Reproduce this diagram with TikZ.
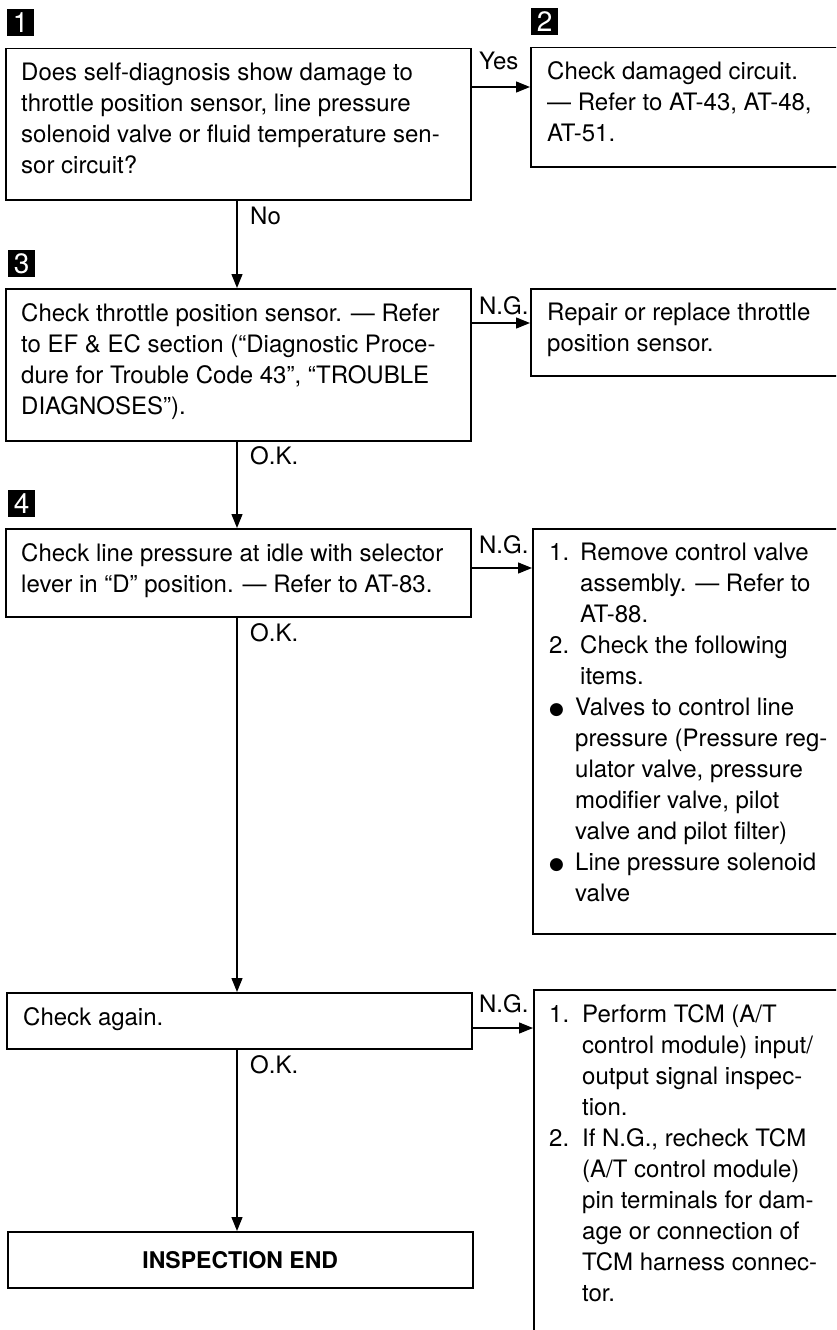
\documentclass[tikz,border=0pt]{standalone}
\usepackage{fontspec}
\setmainfont{TeX Gyre Heros}
\newfontfamily\symfont{DejaVu Sans}
\usetikzlibrary{arrows.meta}
\newcommand{\blt}{\makebox[26pt][l]{\raisebox{1.5pt}{\symfont\fontsize{17}{17}\selectfont ●}}}
\begin{document}
\begin{tikzpicture}[x=1pt,y=-1pt,
  box/.style={draw,line width=1.5pt,rectangle,anchor=north west,inner sep=0pt},
  txt/.style={anchor=north west,inner sep=0pt,align=left,
    font=\fontsize{24}{31}\selectfont},
  lbl/.style={anchor=base west,inner sep=0pt,font=\fontsize{24}{31}\selectfont},
  marker/.style={fill=black,anchor=north west,inner sep=0pt,minimum size=27pt,
    text=white,font=\fontsize{28}{28}\selectfont},
  arr/.style={line width=1.3pt,-{Triangle[length=14pt,width=11pt]}}]
\clip (0,0) rectangle (836,1330);
\fill[white] (0,0) rectangle (836,1330);

% step markers
\node[marker] (m1) at (7,9) {1};
\node[marker] (m2) at (531,8) {2};
\node[marker] (m3) at (8,250) {3};
\node[marker] (m4) at (8,490) {4};

% left column
\node[box,minimum width=465pt,minimum height=151pt] (b1) at (5,48) {};
\node[txt] (t1) at ([xshift=16pt,yshift=-15pt]b1.north west)
  {Does self-diagnosis show damage to\\
   throttle position sensor, line pressure\\
   solenoid valve or fluid temperature sen-\\
   sor circuit?};

\node[box,minimum width=465pt,minimum height=152pt] (b3) at (5,288) {};
\node[txt] (t3) at ([xshift=16pt,yshift=-15pt]b3.north west)
  {Check throttle position sensor. — Refer\\
   to EF \& EC section (“Diagnostic Proce-\\
   dure for Trouble Code 43”, “TROUBLE\\
   DIAGNOSES”).};

\node[box,minimum width=465pt,minimum height=88pt] (b4) at (5,528) {};
\node[txt] (t4) at ([xshift=16pt,yshift=-15pt]b4.north west)
  {Check line pressure at idle with selector\\
   lever in “D” position. — Refer to AT-83.};

\node[box,minimum width=465pt,minimum height=56pt] (b5) at (6,992) {};
\node[txt] (t5) at ([xshift=17pt,yshift=-15pt]b5.north west) {Check again.};

\node[box,minimum width=465pt,minimum height=56pt] (b6) at (7,1231) {};
\node[font=\fontsize{23}{31}\selectfont\bfseries] (t6) at (b6.center) {INSPECTION END};

% right column
\node[box,minimum width=320pt,minimum height=119pt] (r1) at (530,47) {};
\node[txt] (u1) at ([xshift=17pt,yshift=-14pt]r1.north west)
  {Check damaged circuit.\\
   — Refer to AT-43, AT-48,\\
   AT-51.};

\node[box,minimum width=320pt,minimum height=87pt] (r3) at (530,288) {};
\node[txt] (u3) at ([xshift=17pt,yshift=-15pt]r3.north west)
  {Repair or replace throttle\\
   position sensor.};

\node[box,minimum width=320pt,minimum height=405pt] (r4) at (532,528) {};
\node[txt] (u4) at ([xshift=17pt,yshift=-15pt]r4.north west)
  {\makebox[31pt][l]{1.}Remove control valve\\
   \hspace*{31pt}assembly. — Refer to\\
   \hspace*{31pt}AT-88.\\
   \makebox[31pt][l]{2.}Check the following\\
   \hspace*{31pt}items.\\
   \blt Valves to control line\\
   \hspace*{26pt}pressure (Pressure reg-\\
   \hspace*{26pt}ulator valve, pressure\\
   \hspace*{26pt}modifier valve, pilot\\
   \hspace*{26pt}valve and pilot filter)\\
   \blt Line pressure solenoid\\
   \hspace*{26pt}valve};

\node[box,minimum width=320pt,minimum height=360pt] (r5) at (533,989) {};
\node[txt] (u5) at ([xshift=16pt,yshift=-15pt]r5.north west)
  {\makebox[33pt][l]{1.}Perform TCM (A/T\\
   \hspace*{33pt}control module) input/\\
   \hspace*{33pt}output signal inspec-\\
   \hspace*{33pt}tion.\\
   \makebox[33pt][l]{2.}If N.G., recheck TCM\\
   \hspace*{33pt}(A/T control module)\\
   \hspace*{33pt}pin terminals for dam-\\
   \hspace*{33pt}age or connection of\\
   \hspace*{33pt}TCM harness connec-\\
   \hspace*{33pt}tor.};

% connectors
\coordinate (vx) at (237,0);
\draw[arr] (b1.south -| vx) -- (b3.north -| vx);
\draw[arr] (b3.south -| vx) -- (b4.north -| vx);
\draw[arr] (b4.south -| vx) -- (b5.north -| vx);
\draw[arr] (b5.south -| vx) -- (b6.north -| vx);

\draw[arr] (b1.east |- 0,87) -- (r1.west |- 0,87);
\draw[arr] (b3.east |- 0,323) -- (r3.west |- 0,323);
\draw[arr] (b4.east |- 0,568) -- (r4.west |- 0,568);
\draw[arr] (b5.east |- 0,1028) -- (r5.west |- 0,1028);

% branch labels
\node[lbl] (l1) at (479,70) {Yes};
\node[lbl] (l2) at (250,224) {No};
\node[lbl] (l3) at (479,314) {N.G.};
\node[lbl] (l4) at (250,464) {O.K.};
\node[lbl] (l5) at (479,553) {N.G.};
\node[lbl] (l6) at (250,641) {O.K.};
\node[lbl] (l7) at (479,1012) {N.G.};
\node[lbl] (l8) at (250,1073) {O.K.};
\end{tikzpicture}
\end{document}
